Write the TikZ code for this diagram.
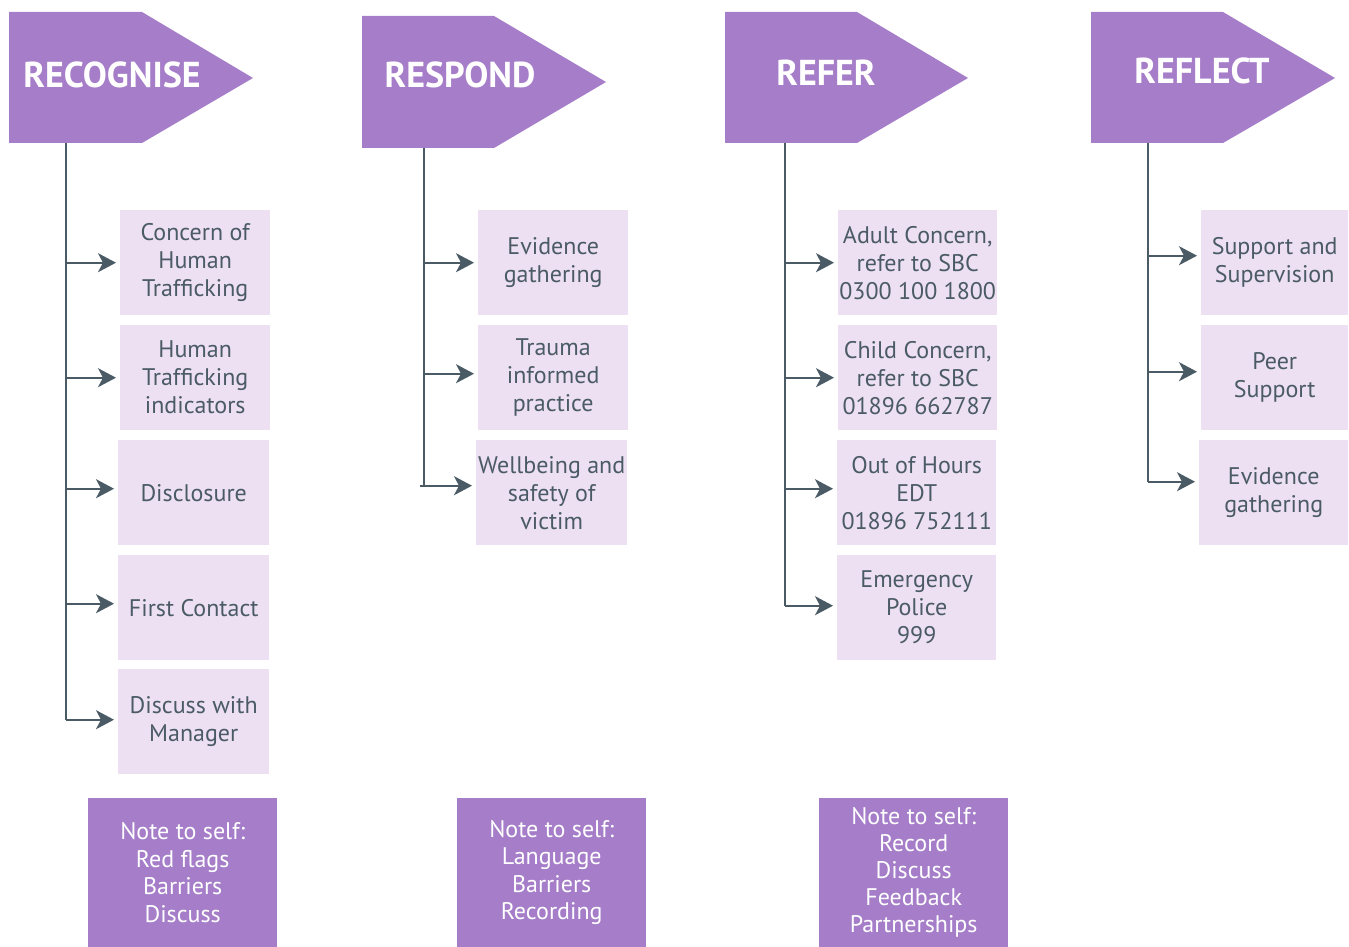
\documentclass[tikz,border=0pt]{standalone}
\usepackage{fontspec}
\setmainfont{PT Sans}
\usetikzlibrary{arrows.meta}
\definecolor{purp}{HTML}{A57DC8}
\definecolor{lite}{HTML}{EDE0F2}
\definecolor{ink}{HTML}{4B5B66}
\tikzset{
  hdrshape/.style={fill=purp, draw=none},
  htext/.style={text=white, font=\bfseries\fontsize{36}{42}\selectfont, inner sep=0},
  item/.style={fill=lite, text=ink, inner sep=0, align=center, anchor=north west,
    minimum height=105pt, font=\fontsize{24}{28}\selectfont},
  note/.style={fill=purp, text=white, inner sep=0, align=center, anchor=north west,
    minimum width=189pt, minimum height=149pt, font=\fontsize{24}{27.5}\selectfont},
  conn/.style={draw=ink, line width=2pt},
  arr/.style={conn, shorten >=4pt, -{Stealth[length=18pt,width=19pt,inset=5pt]}}
}
\begin{document}
\begin{tikzpicture}[x=1pt,y=-1pt]
\useasboundingbox (0,0) rectangle (1349,947);
% headers
\fill[hdrshape] (9,12) -- (142,12) -- (253,78) -- (142,143) -- (9,143) -- cycle;
\node[htext] (h1) at (112,75) {RECOGNISE};
\fill[hdrshape] (362,16) -- (494,16) -- (606,82) -- (494,148) -- (362,148) -- cycle;
\node[htext] (h2) at (460,75) {RESPOND};
\fill[hdrshape] (725,12) -- (857,12) -- (968,78) -- (857,143) -- (725,143) -- cycle;
\node[htext] (h3) at (826,73) {REFER};
\fill[hdrshape] (1091,12) -- (1223,12) -- (1335,78) -- (1223,143) -- (1091,143) -- cycle;
\node[htext] (h4) at (1202,71) {REFLECT};
\coordinate (t1) at (66,143);
\coordinate (t2) at (424,148);
\coordinate (t3) at (785,143);
\coordinate (t4) at (1148,143);
% column 1
\node[item, minimum width=150pt] (a1) at (120,210) {Concern of\\Human\\Trafficking};
\node[item, minimum width=150pt] (a2) at (120,325) {Human\\Trafficking\\indicators};
\node[item, minimum width=151pt] (a3) at (118,440) {Disclosure};
\node[item, minimum width=151pt] (a4) at (118,555) {First Contact};
\node[item, minimum width=151pt] (a5) at (118,669) {Discuss with\\Manager};
% column 2
\node[item, minimum width=150pt] (b1) at (478,210) {Evidence\\gathering};
\node[item, minimum width=150pt] (b2) at (478,325) {Trauma\\informed\\practice};
\node[item, minimum width=151pt] (b3) at (476,440) {Wellbeing and\\safety of\\victim};
% column 3
\node[item, minimum width=159pt] (c1) at (838,210) {Adult Concern,\\refer to SBC\\0300 100 1800};
\node[item, minimum width=159pt] (c2) at (838,325) {Child Concern,\\refer to SBC\\01896 662787};
\node[item, minimum width=159pt] (c3) at (837,440) {Out of Hours\\EDT\\01896 752111};
\node[item, minimum width=159pt] (c4) at (837,555) {Emergency\\Police\\999};
% column 4
\node[item, minimum width=147pt] (d1) at (1201,210) {Support and\\Supervision};
\node[item, minimum width=147pt] (d2) at (1201,325) {Peer\\Support};
\node[item, minimum width=149pt] (d3) at (1199,440) {Evidence\\gathering};
% notes
\node[note] (n1) at (88,798) {Note to self:\\Red flags\\Barriers\\Discuss};
\node[note] (n2) at (457,798) {Note to self:\\Language\\Barriers\\Recording};
\node[note, font=\fontsize{24}{27}\selectfont] (n3) at (819,798) {Note to self:\\Record\\Discuss\\Feedback\\Partnerships};
% connectors
\foreach \n/\dy in {a1/0,a2/0,a3/4,a4/4,a5/2} {
  \coordinate (p) at ([yshift=\dy pt]\n.west);
  \draw[arr] (t1 |- p) -- (p);
}
\coordinate (e1) at ([yshift=2pt]a5.west);
\draw[conn] (t1) -- (t1 |- e1);
\foreach \n/\dy in {b1/0,b2/4,b3/7} {
  \coordinate (p) at ([yshift=\dy pt]\n.west);
  \draw[arr] (t2 |- p) -- (p);
}
\coordinate (e2) at ([yshift=7pt]b3.west);
\draw[conn] (t2) -- (t2 |- e2);
\draw[conn] ([xshift=-4pt]t2 |- e2) -- (t2 |- e2);
\foreach \n/\dy in {c1/0,c2/0,c3/4,c4/2} {
  \coordinate (p) at ([yshift=\dy pt]\n.west);
  \draw[arr] (t3 |- p) -- (p);
}
\coordinate (e3) at ([yshift=2pt]c4.west);
\draw[conn] (t3) -- (t3 |- e3);
\foreach \n/\dy in {d1/7,d2/6,d3/11} {
  \coordinate (p) at ([yshift=\dy pt]\n.west);
  \draw[arr] (t4 |- p) -- (p);
}
\coordinate (e4) at ([yshift=11pt]d3.west);
\draw[conn] (t4) -- (t4 |- e4);
\end{tikzpicture}
\end{document}
